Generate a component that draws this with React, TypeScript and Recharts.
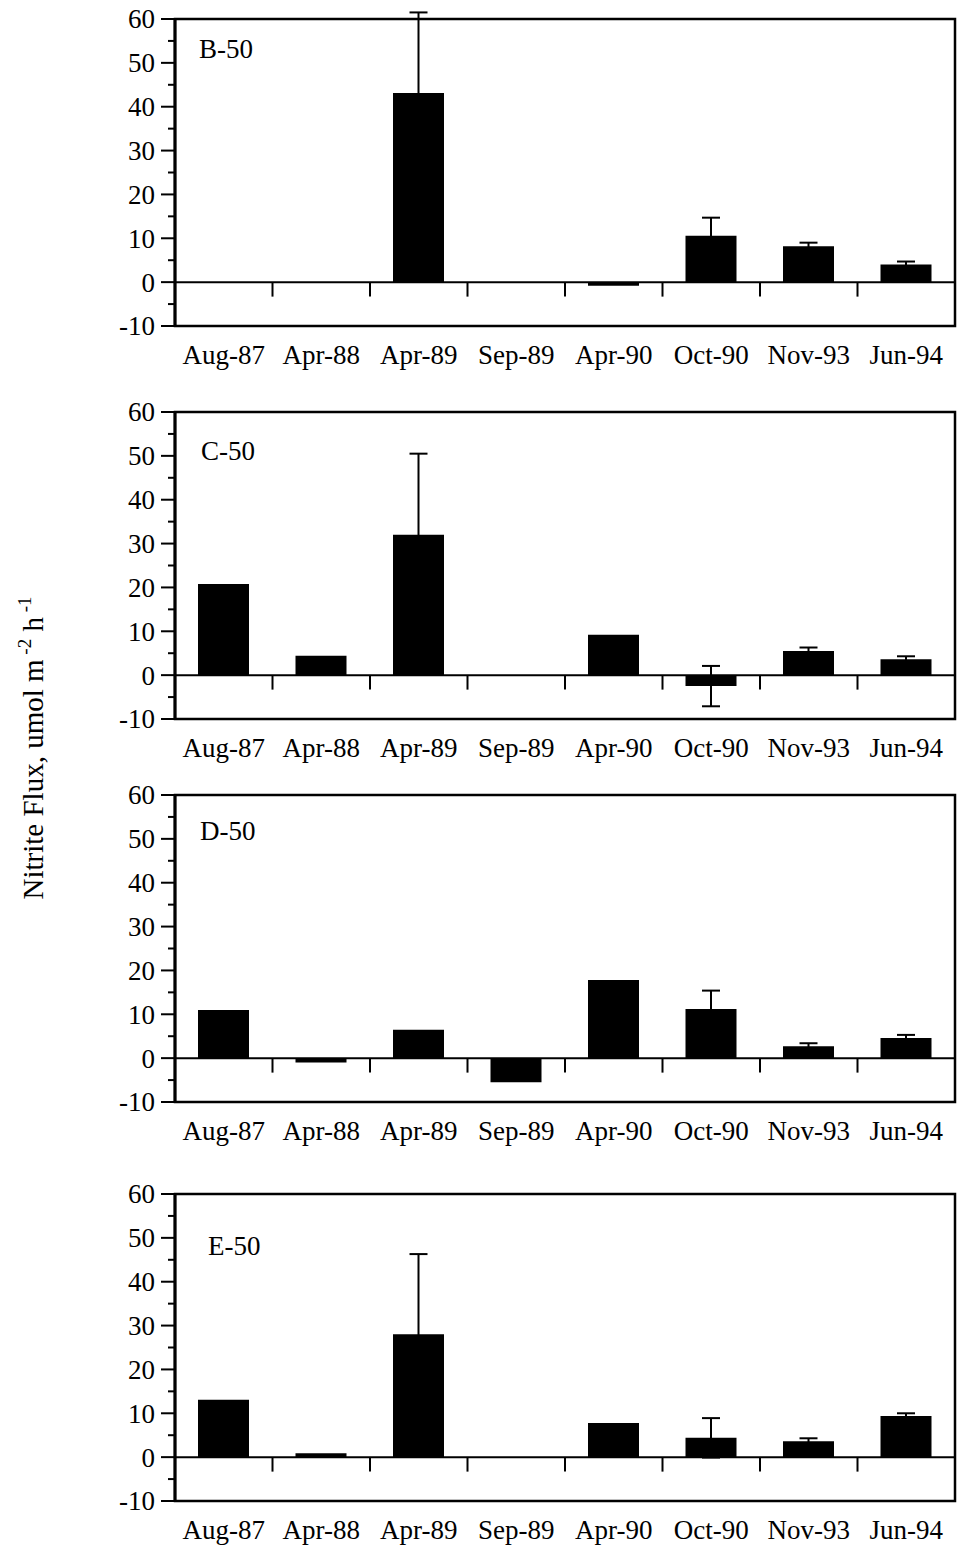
import React from 'react';
import {
  BarChart,
  Bar,
  XAxis,
  YAxis,
  ErrorBar,
  ReferenceLine,
  ReferenceArea,
} from 'recharts';

const categories = ['Aug-87', 'Apr-88', 'Apr-89', 'Sep-89', 'Apr-90', 'Oct-90', 'Nov-93', 'Jun-94'];
const yTicks = [-10, -5, 0, 5, 10, 15, 20, 25, 30, 35, 40, 45, 50, 55, 60];

// mean flux and standard error, per site
const b50Values = [0, 0, 43.1, 0, -0.8, 10.6, 8.2, 4.0];
const b50Errors = [0, 0, 18.4, 0, 0, 4.1, 0.8, 0.7];
const c50Values = [20.8, 4.4, 32.0, 0, 9.2, -2.5, 5.5, 3.6];
const c50Errors = [0, 0, 18.5, 0, 0, 4.6, 0.8, 0.7];
const d50Values = [11.0, -1.0, 6.5, -5.5, 17.8, 11.2, 2.7, 4.6];
const d50Errors = [0, 0, 0, 0, 0, 4.2, 0.7, 0.7];
const e50Values = [13.1, 0.9, 28.0, 0, 7.8, 4.4, 3.6, 9.4];
const e50Errors = [0, 0, 18.3, 0, 0, 4.5, 0.7, 0.6];

const FONT = "'Liberation Serif', 'Times New Roman', serif";
const W = 959;
const H = 372;
const TOP = 20;

const panels = [
  { name: 'B-50', values: b50Values, errors: b50Errors, top: -1, labelX: 199, labelY: 59 },
  { name: 'C-50', values: c50Values, errors: c50Errors, top: 392, labelX: 201, labelY: 68 },
  { name: 'D-50', values: d50Values, errors: d50Errors, top: 775, labelX: 200, labelY: 65 },
  { name: 'E-50', values: e50Values, errors: e50Errors, top: 1174, labelX: 208, labelY: 81 },
];

const YTick = (props: any) => {
  const { x, y, payload } = props;
  const v = payload.value;
  const major = v % 10 === 0;
  const axisX = x + 14 + 6;
  return (
    <g>
      <line x1={axisX - (major ? 14 : 7)} x2={axisX} y1={y} y2={y} stroke="#000" strokeWidth={2} />
      {major && (
        <text x={x} y={y} dy="0.35em" textAnchor="end" fill="#000" fontSize={27} fontFamily={FONT}>
          {v}
        </text>
      )}
    </g>
  );
};

const Panel = ({ panel }: { panel: (typeof panels)[number] }) => {
  const data = categories.map((c, i) => ({
    pos: i + 0.5,
    label: c,
    value: panel.values[i],
    err: panel.errors[i] || null,
  }));
  const xTicks = categories.map((_, i) => i + 0.5);
  const bounds = categories.slice(1).map((_, i) => i + 1);

  return (
    <div style={{ position: 'absolute', left: 0, top: panel.top, width: W, height: H }}>
      <BarChart width={W} height={H} data={data} margin={{ top: TOP, right: 4, bottom: 0, left: 0 }}>
        <XAxis
          type="number"
          dataKey="pos"
          domain={[0, 8]}
          ticks={xTicks}
          interval={0}
          tickFormatter={(v: number) => categories[Math.floor(v)]}
          axisLine={false}
          tickLine={false}
          tickSize={0}
          tickMargin={19}
          height={45}
          tick={{ fill: '#000', fontSize: 27, fontFamily: FONT }}
        />
        <YAxis
          domain={[-10, 60]}
          allowDataOverflow
          ticks={yTicks}
          interval={0}
          width={175}
          tickSize={14}
          tickMargin={6}
          tickLine={false}
          axisLine={{ stroke: '#000', strokeWidth: 3 }}
          tick={(p: any) => <YTick {...p} />}
        />
        <ReferenceArea x1={0} x2={8} y1={-10} y2={60} fill="none" stroke="#000" strokeWidth={2.5} />
        <ReferenceLine y={0} stroke="#000" strokeWidth={2} />
        {bounds.map((b) => (
          <ReferenceLine
            key={b}
            segment={[
              { x: b, y: 0 },
              { x: b, y: -3.3 },
            ]}
            stroke="#000"
            strokeWidth={2}
          />
        ))}
        <Bar dataKey="value" fill="#000" barSize={51} isAnimationActive={false}>
          <ErrorBar dataKey="err" width={9} stroke="#000" strokeWidth={2} direction="y" />
        </Bar>
      </BarChart>
      <svg
        width={W}
        height={H}
        style={{ position: 'absolute', left: 0, top: 0, pointerEvents: 'none' }}
      >
        <text x={panel.labelX} y={panel.labelY} fontSize={27} fontFamily={FONT} fill="#000">
          {panel.name}
        </text>
      </svg>
    </div>
  );
};

export default function App() {
  return (
    <div
      style={{
        position: 'absolute',
        left: 0,
        top: 0,
        width: W,
        height: 1550,
        background: '#fff',
        overflow: 'hidden',
      }}
    >
      {panels.map((p) => (
        <Panel key={p.name} panel={p} />
      ))}
      <svg width={100} height={1550} style={{ position: 'absolute', left: 0, top: 0 }}>
        <text
          x={43}
          y={748}
          transform="rotate(-90 43 748)"
          textAnchor="middle"
          fontSize={29}
          fontFamily={FONT}
          fill="#000"
        >
          <tspan>Nitrite Flux, umol m</tspan>
          <tspan dy={-12} fontSize={19}> -2</tspan>
          <tspan dy={12}> h</tspan>
          <tspan dy={-12} fontSize={19}> -1</tspan>
        </text>
      </svg>
    </div>
  );
}
